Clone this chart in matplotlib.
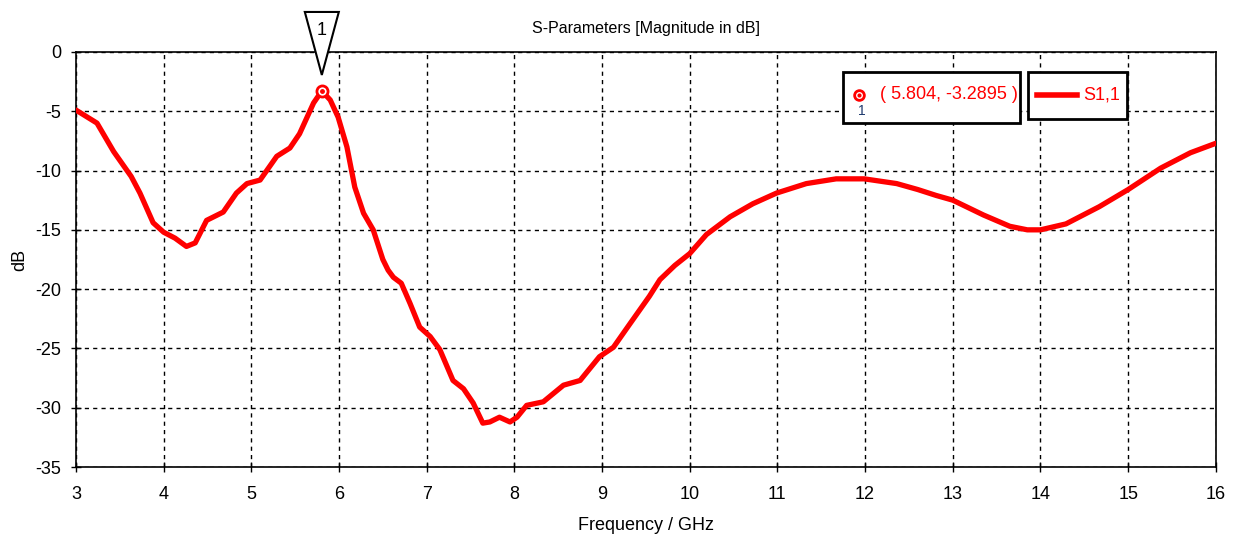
import matplotlib
matplotlib.use("Agg")
import matplotlib.pyplot as plt
import matplotlib.transforms as mtransforms
from matplotlib.patches import Polygon, Rectangle
from matplotlib.lines import Line2D

plt.rcParams["font.family"] = ["Liberation Sans", "DejaVu Sans"]
plt.rcParams["axes.unicode_minus"] = False

# S1,1 magnitude (GHz, dB)
freq = [3.00, 3.24, 3.43, 3.63, 3.73, 3.88, 4.00, 4.13, 4.26, 4.36, 4.49, 4.68,
        4.83, 4.95, 5.10, 5.29, 5.44, 5.55, 5.71, 5.804, 5.90, 5.99, 6.09, 6.18,
        6.28, 6.39, 6.50, 6.56, 6.62, 6.71, 6.81, 6.92, 7.04, 7.15, 7.30, 7.42,
        7.53, 7.64, 7.72, 7.83, 7.95, 8.03, 8.14, 8.33, 8.56, 8.75, 8.97, 9.13,
        9.32, 9.54, 9.66, 9.83, 10.00, 10.19, 10.46, 10.72, 10.99, 11.33, 11.67,
        11.99, 12.36, 12.60, 12.81, 13.00, 13.35, 13.65, 13.85, 14.00, 14.29,
        14.67, 15.00, 15.37, 15.71, 16.00]
s11 = [-4.9, -6.0, -8.4, -10.5, -11.9, -14.4, -15.2, -15.7, -16.4, -16.1, -14.2,
       -13.5, -11.9, -11.1, -10.8, -8.8, -8.1, -6.9, -4.3, -3.2895, -4.05, -5.5,
       -8.0, -11.4, -13.6, -15.0, -17.5, -18.4, -19.0, -19.5, -21.2, -23.2, -24.0,
       -25.1, -27.7, -28.4, -29.6, -31.3, -31.2, -30.8, -31.2, -30.8, -29.8, -29.5,
       -28.1, -27.7, -25.7, -24.9, -22.9, -20.6, -19.2, -18.0, -17.0, -15.4, -13.9,
       -12.8, -11.9, -11.1, -10.7, -10.7, -11.1, -11.6, -12.1, -12.5, -13.75, -14.7,
       -15.0, -15.0, -14.5, -13.05, -11.6, -9.8, -8.5, -7.7]

marker_x = 5.804
marker_y = -3.2895
xticks = list(range(3, 17))
yticks = [0, -5, -10, -15, -20, -25, -30, -35]

fig = plt.figure(figsize=(12.35, 5.44), dpi=100)
ax = fig.add_axes([0.0615, 0.1415, 0.923, 0.763])

ax.plot(freq, s11, color="#ff0000", lw=3.8, solid_capstyle="round",
        solid_joinstyle="round", zorder=3)
ax.set_xlim(3, 16)
ax.set_ylim(-35, 0)
ax.set_xticks(xticks)
ax.set_yticks(yticks)
ax.grid(True, color="black", linestyle=(0, (3, 3)), linewidth=1.0)
ax.tick_params(direction="inout", length=7, width=1, labelsize=13)
ax.tick_params(axis="x", pad=10)
ax.tick_params(axis="y", pad=7)
for sp in ax.spines.values():
    sp.set_linewidth(1.2)

ax.set_title("S-Parameters [Magnitude in dB]", fontsize=11.5, pad=14)
ax.set_xlabel("Frequency / GHz", fontsize=13, labelpad=10)
ax.set_ylabel("dB", fontsize=13)
ax.yaxis.set_label_coords(-0.042, 0.5)

# marker on the curve
ax.plot([marker_x], [marker_y], marker="o", ms=8, mfc="white", mec="#ff0000",
        mew=2, zorder=5, clip_on=False)
ax.plot([marker_x], [marker_y], marker="o", ms=2.5, color="#ff0000", zorder=6)

# inverted triangle flag above the marker (vertices in inches around the marker)
flag_tr = fig.dpi_scale_trans + mtransforms.ScaledTranslation(marker_x, marker_y, ax.transData)
ax.add_patch(Polygon([(-0.17, 0.79), (0.17, 0.79), (0.0, 0.16)], closed=True,
                     facecolor="white", edgecolor="black", lw=1.5,
                     transform=flag_tr, clip_on=False, zorder=7))
ax.text(0.0, 0.60, "1", transform=flag_tr, ha="center", va="center",
        fontsize=13, zorder=8, clip_on=False)

# marker readout box
ax.add_patch(Rectangle((0.673, 0.829), 0.155, 0.123, transform=ax.transAxes,
                       facecolor="white", edgecolor="black", lw=2, zorder=9))
ax.plot([0.687], [0.897], transform=ax.transAxes, marker="o", ms=7, mfc="white",
        mec="#ff0000", mew=2, zorder=10)
ax.plot([0.687], [0.897], transform=ax.transAxes, marker="o", ms=2, color="#ff0000", zorder=11)
ax.text(0.689, 0.858, "1", transform=ax.transAxes, ha="center", va="center",
        fontsize=10, color="#1f3a6e", zorder=11)
ax.text(0.705, 0.897, "( %.3f, %.4f )" % (marker_x, marker_y), transform=ax.transAxes,
        ha="left", va="center", fontsize=13, color="#ff0000", zorder=11)

# legend box
ax.add_patch(Rectangle((0.835, 0.839), 0.087, 0.113, transform=ax.transAxes,
                       facecolor="white", edgecolor="black", lw=2, zorder=9))
ax.add_line(Line2D([0.843, 0.878], [0.897, 0.897], transform=ax.transAxes,
                   color="#ff0000", lw=4, zorder=10))
ax.text(0.884, 0.897, "S1,1", transform=ax.transAxes, ha="left", va="center",
        fontsize=13, color="#ff0000", zorder=11)

fig.savefig("out.png", dpi=100)
